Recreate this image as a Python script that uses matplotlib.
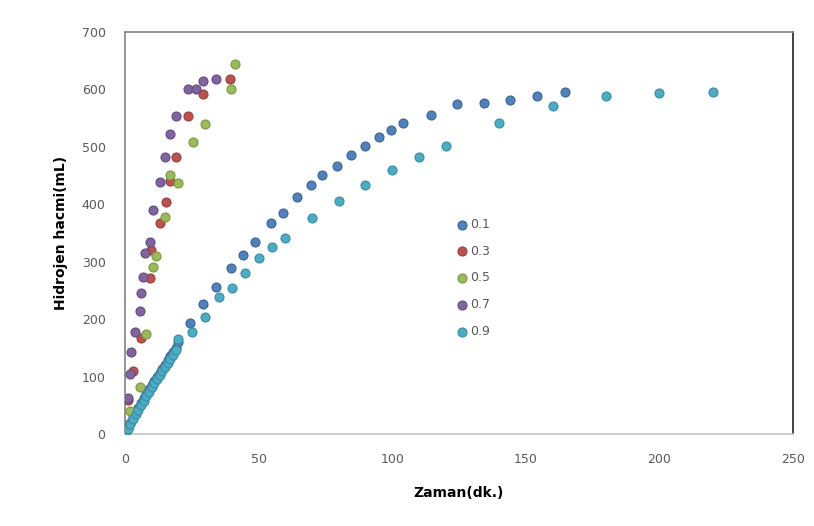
import matplotlib
matplotlib.use('Agg')
import matplotlib.pyplot as plt

# series labels and Excel 2007 default colours
labels = ['0.1', '0.3', '0.5', '0.7', '0.9']
colors = ['#4F81BD', '#C0504D', '#9BBB59', '#8064A2', '#4BACC6']
edges = ['#3A6496', '#94403D', '#7A9644', '#614B7E', '#3A8CA3']

# 0.1
t_01 = [0, 1, 2, 3, 4, 5, 6, 7, 8, 9, 10, 11, 12, 13, 14, 15, 16, 17, 18, 19, 20,
        24.4, 29.3, 34.2, 39.8, 44.3, 48.8, 54.8, 59.3, 64.2, 69.5, 73.9, 79.2,
        84.5, 89.7, 95, 99.5, 104, 114.5, 124.3, 134.4, 144, 154.3, 164.8]
v_01 = [0, 10, 20, 30, 38, 46, 54, 62, 70, 78, 86, 93, 100, 107, 114, 121, 128,
        135, 142, 150, 160, 194, 227, 256, 289, 311, 334, 367, 385, 413, 434, 451,
        467, 485, 501, 518, 530, 541, 555, 574, 577, 581, 588, 595]

# 0.3
t_03 = [0, 1, 3, 6, 9.4, 9.8, 13.1, 15.4, 17, 19.1, 23.7, 29.3, 39.4]
v_03 = [0, 60, 110, 168, 271, 320, 367, 404, 440, 483, 553, 592, 618]

# 0.5
t_05 = [0, 2, 5.6, 8, 10.5, 11.6, 15, 16.9, 19.9, 25.5, 30, 39.8, 41.3]
v_05 = [0, 40, 81, 175, 290, 310, 378, 451, 437, 509, 539, 600, 644]

# 0.7
t_07 = [0, 1.1, 1.9, 2.3, 3.8, 5.6, 6.0, 6.8, 7.5, 9.4, 10.5, 13.1, 15.0, 16.9,
        19.1, 23.7, 26.7, 29.3, 34.2]
v_07 = [0, 63, 105, 142, 177, 215, 245, 273, 315, 334, 390, 439, 483, 522,
        553, 600, 600, 614, 618]

# 0.9
t_09 = [0, 1, 2, 3, 4, 5, 6, 7, 8, 9, 10, 11, 12, 13, 14, 15, 16, 17, 18, 19, 20,
        25, 30, 35, 40, 45, 50, 55, 60, 70, 80, 90, 100, 110, 120, 140, 160, 180,
        200, 220]
v_09 = [0, 8, 17, 26, 34, 42, 50, 58, 66, 74, 82, 89, 96, 103, 110, 117, 124,
        131, 138, 146, 165, 177, 203, 238, 254, 280, 306, 326, 341, 376, 406, 434,
        459, 483, 501, 541, 572, 588, 593, 595]

series = [(t_01, v_01), (t_03, v_03), (t_05, v_05), (t_07, v_07), (t_09, v_09)]

fig = plt.figure(figsize=(8.14, 5.26), dpi=100)
ax = fig.add_axes([125 / 814, 1 - 434 / 526, 668 / 814, 402 / 526])

for (t, v), lab, c, e in zip(series, labels, colors, edges):
    ax.scatter(t, v, s=42, color=c, edgecolors=e, linewidths=0.8, label=lab, zorder=3)

ax.set_xlim(0, 250)
ax.set_ylim(0, 700)
ax.set_xticks([0, 50, 100, 150, 200, 250])
ax.set_yticks(range(0, 701, 100))
ax.tick_params(length=0, labelsize=9, labelcolor='#595959')
ax.tick_params(axis='x', pad=14)
ax.tick_params(axis='y', pad=14)

ax.spines['left'].set_color('#8c8c8c')
ax.spines['top'].set_color('#8c8c8c')
ax.spines['right'].set_color('#333333')
ax.spines['bottom'].set_color('#c8c8c8')
for sp in ax.spines.values():
    sp.set_linewidth(1.3)

ax.set_xlabel('Zaman(dk.)', fontsize=10, fontweight='bold', labelpad=14)
ax.set_ylabel('Hidrojen hacmi(mL)', fontsize=10, fontweight='bold', labelpad=10)

leg = ax.legend(loc='upper left', bbox_to_anchor=(0.49, 0.55), frameon=False,
                fontsize=9, labelspacing=1.1, handletextpad=0.2, handlelength=0.8,
                borderaxespad=0)
for txt in leg.get_texts():
    txt.set_color('#595959')

fig.savefig('out.png', dpi=100)
